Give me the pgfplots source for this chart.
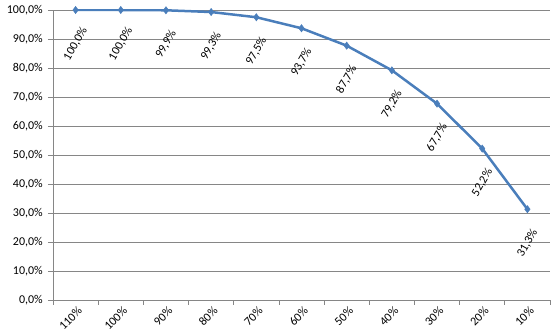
\documentclass[border=0pt]{standalone}
\usepackage{pgfplots}
\pgfplotsset{compat=1.18}
\usepackage{fontspec}
\setmainfont{Carlito}
\definecolor{serie}{HTML}{4A7EBB}
\definecolor{gridc}{HTML}{868686}
\begin{document}
\fontsize{12}{14}\selectfont
\begin{tikzpicture}
\useasboundingbox (-53pt,-36pt) rectangle (507pt,300pt);
\begin{axis}[
  scale only axis, width=497pt, height=290pt,
  xmin=-0.5, xmax=10.5, ymin=0, ymax=100,
  axis x line*=bottom, axis y line*=left,
  axis line style={gridc, -, line width=0.8pt},
  tick align=outside,
  xtick={0,...,10},
  xticklabels={110\%,100\%,90\%,80\%,70\%,60\%,50\%,40\%,30\%,20\%,10\%},
  major x tick style={draw=none},
  minor xtick={-0.5,0.5,...,10.5},
  minor tick length=5pt,
  minor x tick style={gridc, line width=0.8pt},
  xticklabel style={rotate=45, anchor=north east, yshift=0pt, xshift=2pt, inner sep=1.5pt, font=\fontsize{12}{14}\selectfont},
  ytick={0,10,...,100},
  yticklabels={{0,0\%},{10,0\%},{20,0\%},{30,0\%},{40,0\%},{50,0\%},{60,0\%},{70,0\%},{80,0\%},{90,0\%},{100,0\%}},
  major y tick style={gridc, line width=0.8pt},
  major tick length=5pt,
  yticklabel style={font=\fontsize{12}{14}\selectfont, xshift=-1pt},
  ymajorgrids,
  major grid style={gridc, line width=0.8pt},
  point meta=explicit symbolic,
  nodes near coords={\pgfplotspointmeta},
  every node near coord/.append style={yshift=-34pt, rotate=60, anchor=center, font=\fontsize{12}{14}\selectfont, text=black},
]
\addplot[serie, line width=2.5pt, mark=diamond*, mark size=3.6pt, mark options={fill=serie, draw=serie, line width=0.5pt}]
coordinates {
(0,100.0) [100,0\%]
(1,100.0) [100,0\%]
(2,99.9) [99,9\%]
(3,99.3) [99,3\%]
(4,97.5) [97,5\%]
(5,93.7) [93,7\%]
(6,87.7) [87,7\%]
(7,79.2) [79,2\%]
(8,67.7) [67,7\%]
(9,52.2) [52,2\%]
(10,31.3) [31,3\%]
};
\end{axis}
\end{tikzpicture}
\end{document}
